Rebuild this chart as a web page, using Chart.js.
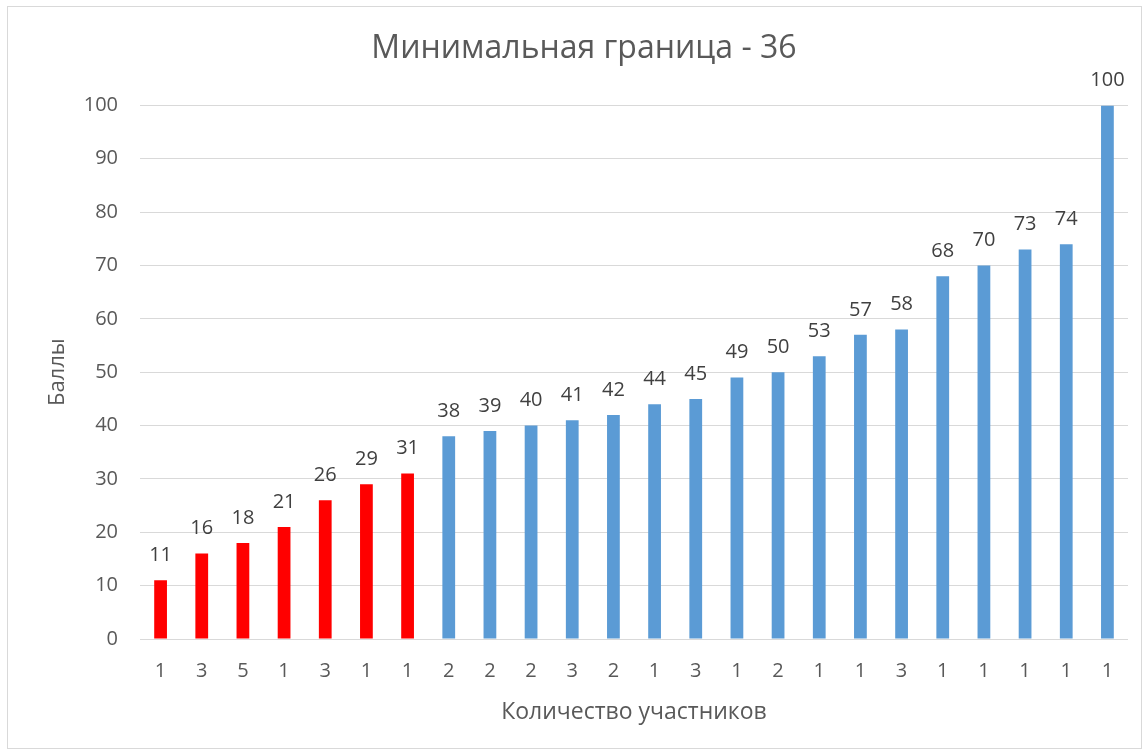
<!DOCTYPE html>
<html>
<head>
<meta charset="utf-8">
<script src="https://cdn.jsdelivr.net/npm/chart.js@4/dist/chart.umd.min.js"></script>
<style>
  html, body { margin: 0; padding: 0; background: #fff; }
  #box {
    position: absolute;
    left: 7px;
    top: 6px;
    width: 1133px;
    height: 741px;
    border: 1px solid #d9d9d9;
  }
</style>
</head>
<body>
<div id="box"><canvas id="chart" width="1133" height="741"></canvas></div>
<script>
// number of participants under each bar
const participants = ["1", "3", "5", "1", "3", "1", "1", "2", "2", "2", "3", "2", "1", "3", "1", "2", "1", "1", "3", "1", "1", "1", "1", "1"];
// scores
const scores = [11, 16, 18, 21, 26, 29, 31, 38, 39, 40, 41, 42, 44, 45, 49, 50, 53, 57, 58, 68, 70, 73, 74, 100];
const minScore = 36;
const yTicks = [0, 10, 20, 30, 40, 50, 60, 70, 80, 90, 100];

const FONT = "'Open Sans', 'Liberation Sans', sans-serif";
const TEXT = "#595959";

const barLabels = {
  id: "barLabels",
  afterDatasetsDraw(chart) {
    const ctx = chart.ctx;
    const meta = chart.getDatasetMeta(0);
    ctx.save();
    ctx.font = "20px " + FONT;
    ctx.fillStyle = "#404040";
    ctx.textAlign = "center";
    ctx.textBaseline = "middle";
    meta.data.forEach((bar, i) => {
      ctx.fillText(String(scores[i]), bar.x, bar.y - 25);
    });
    ctx.restore();
  },
};

new Chart(document.getElementById("chart"), {
  type: "bar",
  data: {
    labels: participants,
    datasets: [
      {
        data: scores,
        backgroundColor: scores.map((v) => (v < minScore ? "#ff0000" : "#5b9bd5")),
        barPercentage: 0.31,
        categoryPercentage: 1,
      },
    ],
  },
  options: {
    responsive: false,
    animation: false,
    layout: { padding: { left: 32, right: 13, top: 0, bottom: 0 } },
    plugins: {
      legend: { display: false },
      tooltip: { enabled: false },
      title: {
        display: true,
        text: "Минимальная граница - 36",
        color: TEXT,
        font: { family: FONT, size: 32, weight: "normal" },
        padding: { top: 23, bottom: 37 },
      },
    },
    scales: {
      x: {
        grid: { display: false, drawTicks: false },
        border: { display: false },
        ticks: { color: TEXT, font: { family: FONT, size: 20 }, padding: 20, maxRotation: 0 },
        title: {
          display: true,
          text: "Количество участников",
          color: TEXT,
          font: { family: FONT, size: 23 },
          padding: { top: 0, bottom: 22 },
        },
        afterFit(scale) { scale.height = 109; },
      },
      y: {
        min: 0,
        max: 100,
        afterBuildTicks(scale) { scale.ticks = yTicks.map((v) => ({ value: v })); },
        grid: { color: "#d9d9d9", lineWidth: 1, drawTicks: false },
        border: { display: false },
        ticks: { color: TEXT, font: { family: FONT, size: 20 }, padding: 22 },
        title: {
          display: true,
          text: "Баллы",
          color: TEXT,
          font: { family: FONT, size: 22 },
          padding: { top: 5, bottom: 0 },
        },
        afterFit(scale) { scale.width = 100; },
      },
    },
  },
  plugins: [barLabels],
});
</script>
</body>
</html>
